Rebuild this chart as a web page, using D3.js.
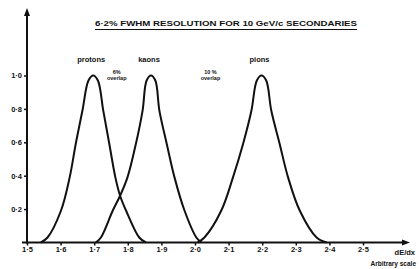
<!DOCTYPE html>
<html lang="en">
<head>
  <meta charset="UTF-8">
  <title>dE/dx resolution</title>
  <script src="https://d3js.org/d3.v7.min.js"></script>
  <style>
    body { margin: 0; background: #fff; }
    svg { display: block; }
    text { font-family: "Liberation Sans", "DejaVu Sans", sans-serif; fill: #111; font-weight: bold; }
    .curve { fill: none; stroke: #111; stroke-width: 2; }
    .axis path, .axis line { stroke: #111; }
  </style>
</head>
<body>
  <div id="chart"></div>
  <script>
    // values
    var title = "6·2% FWHM RESOLUTION FOR 10 GeV/c SECONDARIES";
    var xTicks = [1.5, 1.6, 1.7, 1.8, 1.9, 2.0, 2.1, 2.2, 2.3, 2.4, 2.5];
    var xTickLabels = ["1·5", "1·6", "1·7", "1·8", "1·9", "2·0", "2·1", "2·2", "2·3", "2·4", "2·5"];
    var yTicks = [0.2, 0.4, 0.6, 0.8, 1.0];
    var yTickLabels = ["0·2", "0·4", "0·6", "0·8", "1·0"];

    var particles = ["protons", "kaons", "pions"];
    var protonsX = [1.541, 1.561, 1.601, 1.627, 1.645, 1.665, 1.683, 1.697, 1.711, 1.727, 1.745, 1.763, 1.777, 1.795, 1.834, 1.854];
    var protonsY = [0, 0.03, 0.19, 0.39, 0.59, 0.79, 0.97, 1.0, 0.97, 0.79, 0.59, 0.39, 0.28, 0.19, 0.03, 0];
    var kaonsX = [1.705, 1.720, 1.755, 1.777, 1.799, 1.824, 1.844, 1.856, 1.869, 1.882, 1.894, 1.916, 1.939, 1.969, 2.004, 2.019];
    var kaonsY = [0, 0.03, 0.19, 0.28, 0.39, 0.59, 0.79, 0.97, 1.0, 0.97, 0.79, 0.59, 0.39, 0.19, 0.03, 0];
    var pionsX = [2.008, 2.028, 2.078, 2.113, 2.143, 2.168, 2.184, 2.198, 2.212, 2.227, 2.252, 2.277, 2.312, 2.362, 2.392];
    var pionsY = [0, 0.03, 0.19, 0.39, 0.59, 0.79, 0.97, 1.0, 0.97, 0.79, 0.59, 0.39, 0.19, 0.03, 0];

    var overlapLabels = ["6%", "10 %"];
    var overlapAt = [1.767, 2.046];

    var width = 419, height = 269;

    var x = d3.scaleLinear().domain([1.5, 2.5]).range([27, 363]);
    var y = d3.scaleLinear().domain([0, 1]).range([242.5, 75.5]);

    var svg = d3.select("#chart").append("svg")
      .attr("width", width)
      .attr("height", height);

    // title, underlined
    svg.append("text")
      .attr("x", 226).attr("y", 26)
      .attr("text-anchor", "middle")
      .attr("font-size", 7.5)
      .attr("font-weight", "normal")
      .attr("textLength", 262)
      .attr("lengthAdjust", "spacingAndGlyphs")
      .text(title);
    svg.append("line")
      .attr("x1", 95).attr("x2", 357)
      .attr("y1", 29.5).attr("y2", 29.5)
      .attr("stroke", "#111").attr("stroke-width", 1.2);

    // x axis
    var xAxis = d3.axisBottom(x)
      .tickValues(xTicks)
      .tickSize(3)
      .tickFormat(function (d, i) { return xTickLabels[i]; });

    var gx = svg.append("g")
      .attr("class", "axis")
      .attr("transform", "translate(0," + y(0) + ")")
      .call(xAxis);
    gx.select(".domain").remove();
    gx.selectAll("line").attr("stroke-width", 1.5);
    gx.selectAll("text")
      .attr("font-size", 7.5)
      .attr("dy", "0.5em");

    svg.append("line")
      .attr("x1", 22).attr("x2", 404)
      .attr("y1", y(0)).attr("y2", y(0))
      .attr("stroke", "#111").attr("stroke-width", 2);
    svg.append("path")
      .attr("d", "M410," + y(0) + "L402," + (y(0) - 3) + "L402," + (y(0) + 3) + "Z")
      .attr("fill", "#111");

    // y axis
    var yAxis = d3.axisLeft(y)
      .tickValues(yTicks)
      .tickSize(3)
      .tickFormat(function (d, i) { return yTickLabels[i]; });

    var gy = svg.append("g")
      .attr("class", "axis")
      .attr("transform", "translate(" + x(1.5) + ",0)")
      .call(yAxis);
    gy.select(".domain").remove();
    gy.selectAll("line").attr("stroke-width", 1.5);
    gy.selectAll("text")
      .attr("font-size", 7.5)
      .attr("x", -5);

    svg.append("line")
      .attr("x1", x(1.5)).attr("x2", x(1.5))
      .attr("y1", y(0) + 1).attr("y2", 14)
      .attr("stroke", "#111").attr("stroke-width", 2);
    svg.append("path")
      .attr("d", "M" + x(1.5) + ",8L" + (x(1.5) - 3) + ",16L" + (x(1.5) + 3) + ",16Z")
      .attr("fill", "#111");

    // axis caption
    svg.append("text")
      .attr("x", 415).attr("y", 255)
      .attr("text-anchor", "end")
      .attr("font-size", 7.5)
      .text("dE/dx");
    svg.append("text")
      .attr("x", 416).attr("y", 266)
      .attr("text-anchor", "end")
      .attr("font-size", 6.5)
      .text("Arbitrary scale");

    // curves
    var line = d3.line()
      .x(function (d) { return x(d[0]); })
      .y(function (d) { return y(d[1]); })
      .curve(d3.curveCatmullRom.alpha(0.5));

    var series = [
      d3.zip(protonsX, protonsY),
      d3.zip(kaonsX, kaonsY),
      d3.zip(pionsX, pionsY)
    ];

    svg.selectAll(".curve")
      .data(series)
      .enter().append("path")
      .attr("class", "curve")
      .attr("d", line);

    // particle names above the peaks
    svg.selectAll(".name")
      .data(series)
      .enter().append("text")
      .attr("class", "name")
      .attr("x", function (d) {
        var peak = d3.greatest(d, function (p) { return p[1]; });
        return x(peak[0]) - 2;
      })
      .attr("y", 62)
      .attr("text-anchor", "middle")
      .attr("font-size", 7.5)
      .text(function (d, i) { return particles[i]; });

    // overlap notes
    overlapLabels.forEach(function (lab, i) {
      var g = svg.append("g")
        .attr("transform", "translate(" + x(overlapAt[i]) + ",0)");
      g.append("text")
        .attr("y", 74).attr("text-anchor", "middle")
        .attr("font-size", 5.5)
        .text(lab);
      g.append("text")
        .attr("y", 80).attr("text-anchor", "middle")
        .attr("font-size", 5.5)
        .text("overlap");
    });
  </script>
</body>
</html>
